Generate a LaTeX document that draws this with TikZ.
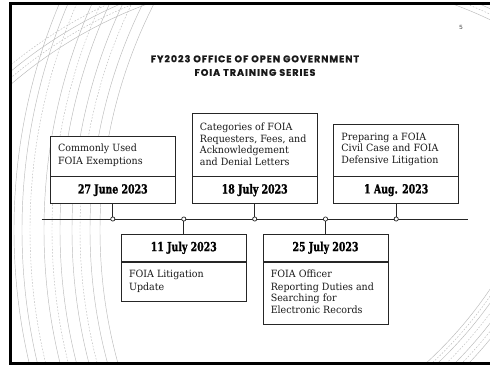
\documentclass[tikz,border=0pt]{standalone}
\usepackage{fontspec}
\setmainfont{DejaVu Serif}
\newfontfamily\bodyfont{DejaVu Serif}[FakeStretch=0.95]
\newfontfamily\datefont{DejaVu Serif}[FakeStretch=0.75, BoldFeatures={FakeBold=1.2}]
\newfontfamily\headfont{Poppins}[LetterSpace=10, BoldFeatures={FakeBold=0.8}]
\newfontfamily\pagefont{Liberation Sans}

\begin{document}
\begin{tikzpicture}[x=1pt,y=-1pt,
  swirl/.style={draw=black!27, line width=0.45pt},
  swirldash/.style={swirl, dash pattern=on 1.6pt off 1.6pt},
  datebox/.style={draw=black!85, fill=white, line width=0.9pt,
    minimum width=125pt, minimum height=26.5pt, inner sep=0pt,
    font=\datefont\bfseries\fontsize{12.5}{14}\selectfont},
  descbox/.style={draw=black!85, fill=white, line width=0.9pt,
    minimum width=125pt, inner sep=0pt},
  desctext/.style={inner sep=0pt, align=left, text=black!90,
    font=\bodyfont\fontsize{10}{11.2}\selectfont},
  link/.style={draw=black!85, line width=0.9pt},
  tick/.style={circle, draw=black!85, fill=white, line width=0.7pt,
    inner sep=0pt, minimum size=4.2pt}
]
\useasboundingbox (0,0) rectangle (490,367);

% slide background swirls
\begin{scope}
  \clip (11,4) rectangle (490,364);
  % large arcs sweeping down the left side
  \foreach \r in {586,578,556,540,528,510,500}
    \draw[swirl] (600,230) circle (\r pt);
  \foreach \r in {570,548,520}
    \draw[swirldash] (600,230) circle (\r pt);
  % arcs crossing the top corners
  \foreach \r in {443,453}
    \draw[swirl] (300,420) circle (\r pt);
  \foreach \r in {448,458}
    \draw[swirldash] (300,420) circle (\r pt);
  % arcs in the lower right corner
  \foreach \r in {410,418,430,440}
    \draw[swirl] (150,60) circle (\r pt);
  \foreach \r in {414,424,435}
    \draw[swirldash] (150,60) circle (\r pt);
\end{scope}

% slide frame
\draw[black, line width=2.6pt] (520,3.7) -- (10.6,3.7) -- (10.6,363.7) -- (520,363.7);

% page number and heading
\node[font=\pagefont\fontsize{6}{7}\selectfont, text=black!75] (pg) at (461,27) {5};
\node[font=\headfont\bfseries\fontsize{9.6}{13.6}\selectfont, align=center, text=black!90]
  (title) at (255,65.5) {FY2023 OFFICE OF OPEN GOVERNMENT\\FOIA TRAINING SERIES};

% timeline
\coordinate (tl) at (41.7,219);
\coordinate (tr) at (467.7,219);
\draw[link] (tl) -- (tr);

% upper sessions
\node[datebox] (d1) at (112.8,190.15) {27 June 2023};
\node[descbox, minimum height=39.7pt, anchor=south] (t1) at (d1.north) {};
\node[desctext, anchor=west] (x1) at ([xshift=8pt,yshift=1pt]t1.west)
  {Commonly Used\\[2pt]FOIA Exemptions};

\node[datebox] (d2) at (254.7,190.15) {18 July 2023};
\node[descbox, minimum height=62.3pt, anchor=south] (t2) at (d2.north) {};
\node[desctext, anchor=west] (x2) at ([xshift=8pt,yshift=1pt]t2.west)
  {Categories of FOIA\\[1.4pt]Requesters, Fees, and\\Acknowledgement\\and Denial Letters};

\node[datebox] (d3) at (396.2,190.15) {1 Aug. 2023};
\node[descbox, minimum height=51.3pt, anchor=south] (t3) at (d3.north) {};
\node[desctext, anchor=west] (x3) at ([xshift=8pt,yshift=1pt]t3.west)
  {Preparing a FOIA\\Civil Case and FOIA\\Defensive Litigation};

% lower sessions
\node[datebox] (d4) at (183.8,247.8) {11 July 2023};
\node[descbox, minimum height=39.4pt, anchor=north] (t4) at (d4.south) {};
\node[desctext, anchor=north west] (x4) at ([xshift=8pt,yshift=-8.2pt]t4.north west)
  {FOIA Litigation\\[2pt]Update};

\node[datebox] (d5) at (325.5,247.8) {25 July 2023};
\node[descbox, minimum height=62pt, anchor=north] (t5) at (d5.south) {};
\node[desctext, anchor=north west] (x5) at ([xshift=8pt,yshift=-8.2pt]t5.north west)
  {FOIA Officer\\[2pt]Reporting Duties and\\Searching for\\Electronic Records};

% ticks on the timeline and their stems
\node[tick] (k1) at (112.8,219) {};
\node[tick] (k2) at (183.8,219) {};
\node[tick] (k3) at (254.7,219) {};
\node[tick] (k4) at (325.5,219) {};
\node[tick] (k5) at (396.2,219) {};
\draw[link] (d1.south) -- (k1.north);
\draw[link] (d2.south) -- (k3.north);
\draw[link] (d3.south) -- (k5.north);
\draw[link] (k2.south) -- (t4.north |- d4.north);
\draw[link] (k4.south) -- (t5.north |- d5.north);
\end{tikzpicture}
\end{document}
